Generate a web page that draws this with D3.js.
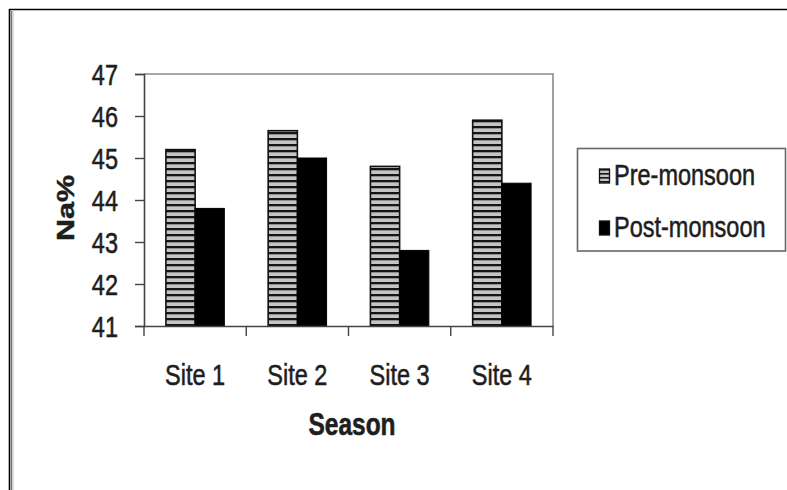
<!DOCTYPE html>
<html>
<head>
<meta charset="utf-8">
<script src="https://cdn.jsdelivr.net/npm/d3@7"></script>
<style>
  html, body { margin: 0; padding: 0; background: #fff; }
  svg text { font-family: "Liberation Sans", Arial, sans-serif; fill: #1e1e1e; stroke: #1e1e1e; stroke-width: 0.45; }
</style>
</head>
<body>
<svg id="chart" width="787" height="490"></svg>
<script>
// Na% by site, pre- and post-monsoon
const sites = ["Site 1", "Site 2", "Site 3", "Site 4"];
const seriesNames = ["Pre-monsoon", "Post-monsoon"];
const preMonsoon = [45.2, 45.65, 44.8, 45.9];
const postMonsoon = [43.8, 45.0, 42.8, 44.4];
const yTicks = [41, 42, 43, 44, 45, 46, 47];

const W = 787, H = 490;
const plot = { left: 144, right: 553, top: 74, bottom: 326 };
const stretch = 1.27;   // text is drawn taller than wide

const svg = d3.select("#chart");

// striped fill for the pre-monsoon bars
const defs = svg.append("defs");
const pat = defs.append("pattern")
  .attr("id", "stripes")
  .attr("patternUnits", "userSpaceOnUse")
  .attr("width", 6).attr("height", 6);
pat.append("rect").attr("width", 6).attr("height", 6).attr("fill", "#c4c4c4");
pat.append("rect").attr("y", 0).attr("width", 6).attr("height", 2.3).attr("fill", "#151515");

const pat2 = defs.append("pattern")
  .attr("id", "stripesSmall")
  .attr("patternUnits", "userSpaceOnUse")
  .attr("width", 4).attr("height", 4);
pat2.append("rect").attr("width", 4).attr("height", 4).attr("fill", "#c4c4c4");
pat2.append("rect").attr("width", 4).attr("height", 1.6).attr("fill", "#151515");

// outer frame
svg.append("line").attr("x1", 9).attr("x2", W).attr("y1", 9.5).attr("y2", 9.5)
  .attr("stroke", "#000").attr("stroke-width", 1.6);
svg.append("line").attr("x1", 9.5).attr("x2", 9.5).attr("y1", 9).attr("y2", H)
  .attr("stroke", "#000").attr("stroke-width", 1.6);
svg.append("line").attr("x1", 11.5).attr("x2", 11.5).attr("y1", 11).attr("y2", H)
  .attr("stroke", "#777").attr("stroke-width", 1.4);
svg.append("line").attr("x1", 13).attr("x2", 13).attr("y1", 11).attr("y2", H)
  .attr("stroke", "#c8c8c8").attr("stroke-width", 1.2);

// scales
const x = d3.scaleBand().domain(sites).range([plot.left, plot.right]).paddingInner(0).paddingOuter(0);
const bw = x.bandwidth() / 3.5;        // two bars plus a 150% gap
const xs = d3.scaleBand().domain(seriesNames).range([0, 2 * bw]);
const y = d3.scaleLinear().domain([41, 47]).range([plot.bottom, plot.top]);

// plot area top and right border
svg.append("path")
  .attr("d", `M${plot.left},${plot.top}H${plot.right}V${plot.bottom}`)
  .attr("fill", "none").attr("stroke", "#8a8a8a").attr("stroke-width", 1.6);

// bars
const groups = svg.append("g").selectAll("g").data(sites).join("g")
  .attr("transform", d => `translate(${x(d) + (x.bandwidth() - 2 * bw) / 2},0)`);

groups.append("rect")
  .attr("x", xs("Pre-monsoon"))
  .attr("y", (d, i) => y(preMonsoon[i]))
  .attr("width", xs.bandwidth())
  .attr("height", (d, i) => y(41) - y(preMonsoon[i]))
  .attr("fill", "url(#stripes)")
  .attr("stroke", "#111").attr("stroke-width", 1.6);

groups.append("rect")
  .attr("x", xs("Post-monsoon"))
  .attr("y", (d, i) => y(postMonsoon[i]))
  .attr("width", xs.bandwidth())
  .attr("height", (d, i) => y(41) - y(postMonsoon[i]))
  .attr("fill", "#000")
  .attr("stroke", "#000").attr("stroke-width", 1);

// y axis
const yAxis = svg.append("g")
  .attr("transform", `translate(${plot.left},0)`)
  .call(d3.axisLeft(y).tickValues(yTicks).tickFormat(d3.format("d")).tickSize(9).tickPadding(17));
yAxis.select(".domain").attr("stroke", "#444").attr("stroke-width", 1.6);
yAxis.selectAll(".tick line").attr("stroke", "#444").attr("stroke-width", 1.4);
yAxis.selectAll(".tick text")
  .attr("font-size", 23.5)
  .attr("fill", "#1e1e1e")
  .attr("dy", "0.36em")
  .attr("transform", `scale(1,${stretch})`);

// x axis: line, category boundary ticks, labels
const xAxis = svg.append("g")
  .attr("transform", `translate(0,${plot.bottom})`)
  .call(d3.axisBottom(x).tickSize(0).tickPadding(0));
xAxis.select(".domain").attr("stroke", "#444").attr("stroke-width", 1.6);
xAxis.selectAll(".tick text").remove();

const bounds = sites.map(s => x(s)).concat([x(sites[sites.length - 1]) + x.bandwidth()]);
xAxis.selectAll("line.bound").data(bounds).join("line")
  .attr("class", "bound")
  .attr("x1", d => d).attr("x2", d => d)
  .attr("y1", 0).attr("y2", 10)
  .attr("stroke", "#444").attr("stroke-width", 1.4);

svg.append("g").selectAll("text").data(sites).join("text")
  .attr("transform", d => `translate(${x(d) + x.bandwidth() / 2},385) scale(1,${stretch})`)
  .attr("text-anchor", "middle")
  .attr("font-size", 23.5)
  .text(d => d);

// axis titles
svg.append("text")
  .attr("transform", `translate(352,435) scale(1,${stretch})`)
  .attr("text-anchor", "middle")
  .attr("font-size", 24.5)
  .attr("font-weight", "bold")
  .text("Season");

svg.append("text")
  .attr("transform", `translate(74,208) rotate(-90) scale(${stretch},1)`)
  .attr("text-anchor", "middle")
  .attr("font-size", 24)
  .attr("font-weight", "bold")
  .text("Na%");

// legend
const legend = svg.append("g");
legend.append("rect")
  .attr("x", 577.5).attr("y", 148.5).attr("width", 208).attr("height", 102.5)
  .attr("fill", "#fff").attr("stroke", "#666").attr("stroke-width", 1.6);

const legendRows = legend.selectAll("g.row").data(seriesNames).join("g")
  .attr("class", "row")
  .attr("transform", (d, i) => `translate(0,${185 + i * 52})`);

legendRows.append("rect")
  .attr("x", 599.5).attr("y", -16)
  .attr("width", 10).attr("height", 14)
  .attr("fill", (d, i) => i === 0 ? "url(#stripesSmall)" : "#000")
  .attr("stroke", "#111").attr("stroke-width", 1.3);

legendRows.append("text")
  .attr("transform", `translate(614,0) scale(1,${stretch})`)
  .attr("font-size", 23.5)
  .text(d => d);
</script>
</body>
</html>
